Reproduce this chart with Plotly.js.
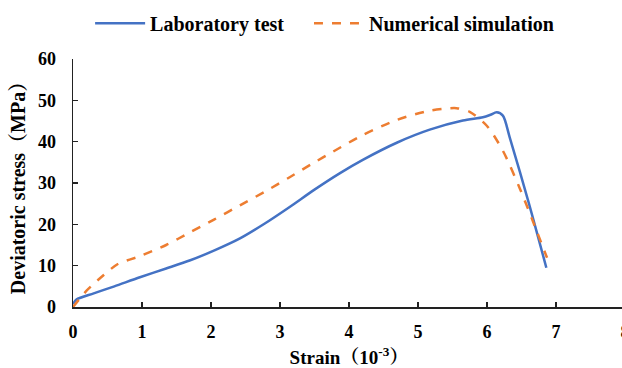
<!DOCTYPE html>
<html>
<head>
<meta charset="utf-8">
<script src="https://cdn.plot.ly/plotly-3.0.1.min.js"></script>
<style>
html,body{margin:0;padding:0;overflow:hidden;background:#fff;}
#chart{width:630px;height:368px;}
</style>
</head>
<body>
<div id="chart"></div>
<script>
var labStrain = [0, 0.05, 0.3, 0.6, 0.97, 1.35, 1.7, 2.05, 2.42, 2.78, 3.14, 3.5, 3.87, 4.2, 4.7, 5.17, 5.65, 5.94, 6.05, 6.14, 6.23, 6.33, 6.6, 6.86];
var labStress = [0.7, 1.8, 3.3, 5.0, 7.2, 9.3, 11.3, 13.7, 16.6, 20.2, 24.2, 28.4, 32.4, 35.6, 39.8, 42.9, 45.1, 45.9, 46.5, 47.1, 46.3, 41, 25.5, 9.5];
var simStrain = [0, 0.2, 0.45, 0.65, 0.97, 1.35, 1.7, 2.05, 2.42, 2.78, 3.14, 3.45, 3.77, 4.2, 4.7, 5.17, 5.4, 5.56, 5.75, 6.0, 6.23, 6.48, 6.72, 6.87];
var simStress = [0, 4, 7.8, 10.4, 12.3, 15.0, 18.1, 21.2, 24.6, 27.9, 31.4, 34.5, 37.6, 41.6, 45.3, 47.5, 48.0, 48.1, 47.2, 43.8, 37.8, 28.5, 18.4, 11.9];
var seriesNames = ["Laboratory test", "Numerical simulation"];
var xTicks = [0, 1, 2, 3, 4, 5, 6, 7, 8];
var yTicks = [0, 10, 20, 30, 40, 50, 60];

var fam = "'Liberation Serif', 'Times New Roman', 'Noto Serif CJK SC', 'Noto Sans CJK SC', serif";
var pad = '\u00a0\u00a0\u00a0\u00a0';

var traces = [
  {x: labStrain, y: labStress, name: seriesNames[0] + pad, mode: 'lines',
   line: {color: '#4472C4', width: 2.5, shape: 'spline', smoothing: 0.8}},
  {x: simStrain, y: simStress, name: seriesNames[1], mode: 'lines',
   line: {color: '#ED7D31', width: 2.5, dash: 'dash', shape: 'spline', smoothing: 0.8}}
];

var layout = {
  width: 630, height: 368,
  margin: {l: 73, r: 5, t: 58, b: 61},
  paper_bgcolor: '#fff', plot_bgcolor: '#fff',
  font: {family: fam, size: 18, color: '#000'},
  showlegend: true,
  legend: {orientation: 'h', x: 0.031, xanchor: 'left', y: 1.14, yanchor: 'middle',
           font: {family: fam, size: 20, color: '#000', weight: 'bold'},
           itemwidth: 50, tracegroupgap: 0},
  xaxis: {
    range: [0, 8], tickvals: xTicks, ticktext: xTicks.map(String),
    showgrid: false, zeroline: false, showline: true, linecolor: '#222', linewidth: 1.5,
    ticks: 'inside', ticklen: 5, tickwidth: 1.5, tickcolor: '#222',
    ticklabelstandoff: 8,
    tickfont: {family: fam, size: 18, weight: 'bold'},
    title: {text: 'Strain（10<sup>-3</sup>）', font: {family: fam, size: 19, weight: 'bold'}, standoff: 12}
  },
  yaxis: {
    range: [0, 60], tickvals: yTicks, ticktext: yTicks.map(String),
    showgrid: false, zeroline: false, showline: true, linecolor: '#222', linewidth: 1.5,
    ticks: 'inside', ticklen: 5, tickwidth: 1.5, tickcolor: '#222',
    ticklabelstandoff: 12,
    tickfont: {family: fam, size: 18, weight: 'bold'},
    title: {text: 'Deviatoric stress（MPa）', font: {family: fam, size: 20, weight: 'bold'}, standoff: 7}
  }
};

Plotly.newPlot('chart', traces, layout, {displayModeBar: false, staticPlot: true});
</script>
</body>
</html>
